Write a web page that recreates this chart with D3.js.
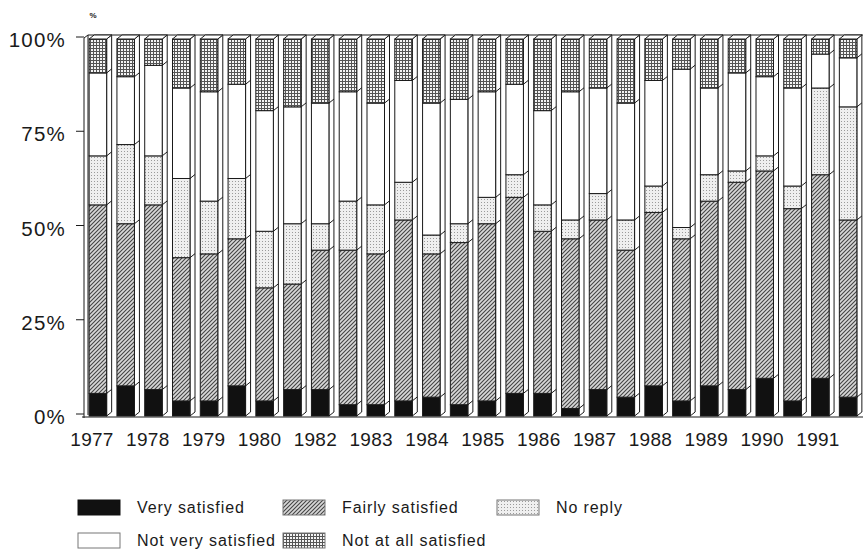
<!DOCTYPE html>
<html>
<head>
<meta charset="utf-8">
<script src="https://cdn.jsdelivr.net/npm/d3@7"></script>
<style>
  body { margin: 0; background: #fff; }
  svg { display: block; font-family: "Liberation Sans", Arial, sans-serif; }
</style>
</head>
<body>
<div id="chart"></div>
<script>
// Survey waves (two per year, 1981 missing)
const years = [1977, 1978, 1979, 1980, 1982, 1983, 1984, 1985, 1986, 1987, 1988, 1989, 1990, 1991];
const waves = years.flatMap(y => [y + " I", y + " II"]);

// Percentages per wave
const verySatisfied     = [6, 8, 7, 4, 4, 8, 4, 7, 7, 3, 3, 4, 5, 3, 4, 6, 6, 2, 7, 5, 8, 4, 8, 7, 10, 4, 10, 5];
const fairlySatisfied   = [50, 43, 49, 38, 39, 39, 30, 28, 37, 41, 40, 48, 38, 43, 47, 52, 43, 45, 45, 39, 46, 43, 49, 55, 55, 51, 54, 47];
const noReply           = [13, 21, 13, 21, 14, 16, 15, 16, 7, 13, 13, 10, 5, 5, 7, 6, 7, 5, 7, 8, 7, 3, 7, 3, 4, 6, 23, 30];
const notVerySatisfied  = [22, 18, 24, 24, 29, 25, 32, 31, 32, 29, 27, 27, 35, 33, 28, 24, 25, 34, 28, 31, 28, 42, 23, 26, 21, 26, 9, 13];
const notAtAllSatisfied = [9, 10, 7, 13, 14, 12, 19, 18, 17, 14, 17, 11, 17, 16, 14, 12, 19, 14, 13, 17, 11, 8, 13, 9, 10, 13, 4, 5];

const yTicks = [0, 25, 50, 75, 100];

const keys = ["very", "fairly", "noreply", "notvery", "notatall"];
const labels = {
  very: "Very satisfied",
  fairly: "Fairly satisfied",
  noreply: "No reply",
  notvery: "Not very satisfied",
  notatall: "Not at all satisfied"
};

// Table for d3.stack
const table = waves.map((w, i) => ({
  wave: w,
  very: verySatisfied[i],
  fairly: fairlySatisfied[i],
  noreply: noReply[i],
  notvery: notVerySatisfied[i],
  notatall: notAtAllSatisfied[i]
}));
const series = d3.stack().keys(keys)(table);

const width = 863, height = 550;
const depthX = 5, depthY = 4;   // 3D offset of the bars
const ink = "#1a1a1a";

const svg = d3.select("#chart").append("svg")
  .attr("width", width)
  .attr("height", height);

// Fill patterns
const defs = svg.append("defs");

const hatch = defs.append("pattern").attr("id", "hatch")
  .attr("patternUnits", "userSpaceOnUse").attr("width", 4).attr("height", 4);
hatch.append("rect").attr("width", 4).attr("height", 4).attr("fill", "#d8d8d8");
hatch.append("path").attr("d", "M-1,1 l2,-2 M0,4 l4,-4 M3,5 l2,-2")
  .attr("stroke", "#444").attr("stroke-width", 1.1);

const dots = defs.append("pattern").attr("id", "dots")
  .attr("patternUnits", "userSpaceOnUse").attr("width", 3).attr("height", 3);
dots.append("rect").attr("width", 3).attr("height", 3).attr("fill", "#efefef");
dots.append("rect").attr("x", 1).attr("y", 1).attr("width", 1).attr("height", 1).attr("fill", "#9a9a9a");

const grid = defs.append("pattern").attr("id", "grid")
  .attr("patternUnits", "userSpaceOnUse").attr("width", 3).attr("height", 3);
grid.append("rect").attr("width", 3).attr("height", 3).attr("fill", "#f4f4f4");
grid.append("path").attr("d", "M0,0.5 H3 M0.5,0 V3")
  .attr("stroke", "#555").attr("stroke-width", 1);

const fills = {
  very: "#111",
  fairly: "url(#hatch)",
  noreply: "url(#dots)",
  notvery: "#fff",
  notatall: "url(#grid)"
};

// Scales
const x = d3.scaleBand().domain(waves).range([84, 862]).paddingInner(0.37).paddingOuter(0.185);
const y = d3.scaleLinear().domain([0, 100]).range([416, 39]);
const yearX = d3.scalePoint().domain(years).range([92, 818]);
const bw = x.bandwidth();

// Frame: left wall, top edge and floor
const frame = svg.append("g").attr("fill", "none").attr("stroke", ink).attr("stroke-width", 1);
frame.append("path").attr("d", `M84,${y(0) + 2} V${y(100) - 1} L88,${y(100) - depthY} V${y(0) - 1}`);
frame.append("path").attr("d", `M88,${y(100) - depthY} H${width}`);
frame.append("path").attr("d", `M82,${y(0) + 1} H${width}`);

// Y axis ticks and labels
const yAxis = svg.append("g");
yAxis.selectAll("line").data(yTicks).join("line")
  .attr("x1", 76).attr("x2", 84)
  .attr("y1", d => y(d) - 2).attr("y2", d => y(d) - 2)
  .attr("stroke", ink);
yAxis.selectAll("text").data(yTicks).join("text")
  .attr("x", 66).attr("y", d => y(d) + 1)
  .attr("dy", "0.35em")
  .attr("text-anchor", "end")
  .attr("font-size", 20.5)
  .attr("letter-spacing", 1.2)
  .attr("fill", ink)
  .text(d => d + "%");

svg.append("text").attr("x", 93).attr("y", 18)
  .attr("font-size", 8).attr("font-weight", "bold").attr("fill", ink)
  .attr("text-anchor", "middle").text("%");

// Bars: side faces first, then front segments, then top faces
const bars = svg.append("g");

bars.selectAll(".side").data(waves).join("path")
  .attr("class", "side")
  .attr("d", w => {
    const x1 = x(w) + bw;
    return `M${x1},${y(100)} L${x1 + depthX},${y(100) - depthY} V${y(0) - depthY} L${x1},${y(0)} Z`;
  })
  .attr("fill", "#fff").attr("stroke", ink).attr("stroke-width", 1);

bars.selectAll(".layer").data(series).join("g")
  .attr("class", "layer")
  .each(function (s) {
    const g = d3.select(this);
    g.selectAll("rect").data(s).join("rect")
      .attr("x", d => x(d.data.wave))
      .attr("y", d => y(d[1]))
      .attr("width", bw)
      .attr("height", d => y(d[0]) - y(d[1]))
      .attr("fill", fills[s.key])
      .attr("stroke", ink).attr("stroke-width", 1);
    if (s.key !== "notatall") {
      g.selectAll("line").data(s).join("line")
        .attr("x1", d => x(d.data.wave) + bw)
        .attr("x2", d => x(d.data.wave) + bw + depthX)
        .attr("y1", d => y(d[1]))
        .attr("y2", d => y(d[1]) - depthY)
        .attr("stroke", ink).attr("stroke-width", 1);
    }
  });

bars.selectAll(".top").data(waves).join("path")
  .attr("class", "top")
  .attr("d", w => {
    const x0 = x(w), x1 = x0 + bw;
    return `M${x0},${y(100)} L${x0 + depthX},${y(100) - depthY} H${x1 + depthX} L${x1},${y(100)} Z`;
  })
  .attr("fill", "#fff").attr("stroke", ink).attr("stroke-width", 1);

// Year labels
svg.append("g").selectAll("text").data(years).join("text")
  .attr("x", d => yearX(d))
  .attr("y", 446)
  .attr("text-anchor", "middle")
  .attr("font-size", 19)
  .attr("letter-spacing", 0.3)
  .attr("fill", ink)
  .text(d => d);

// Legend
const legendPos = {
  very: [78, 500], fairly: [283, 500], noreply: [497, 500],
  notvery: [78, 533], notatall: [283, 533]
};
const legend = svg.append("g").selectAll("g").data(keys).join("g")
  .attr("transform", k => `translate(${legendPos[k][0]},${legendPos[k][1]})`);
legend.append("rect")
  .attr("width", 42).attr("height", 15)
  .attr("fill", k => fills[k])
  .attr("stroke", k => k === "very" ? "#111" : "#777");
legend.append("text")
  .attr("x", 59).attr("y", 13)
  .attr("font-size", 16)
  .attr("letter-spacing", 0.9)
  .attr("fill", ink)
  .text(k => labels[k]);
</script>
</body>
</html>
